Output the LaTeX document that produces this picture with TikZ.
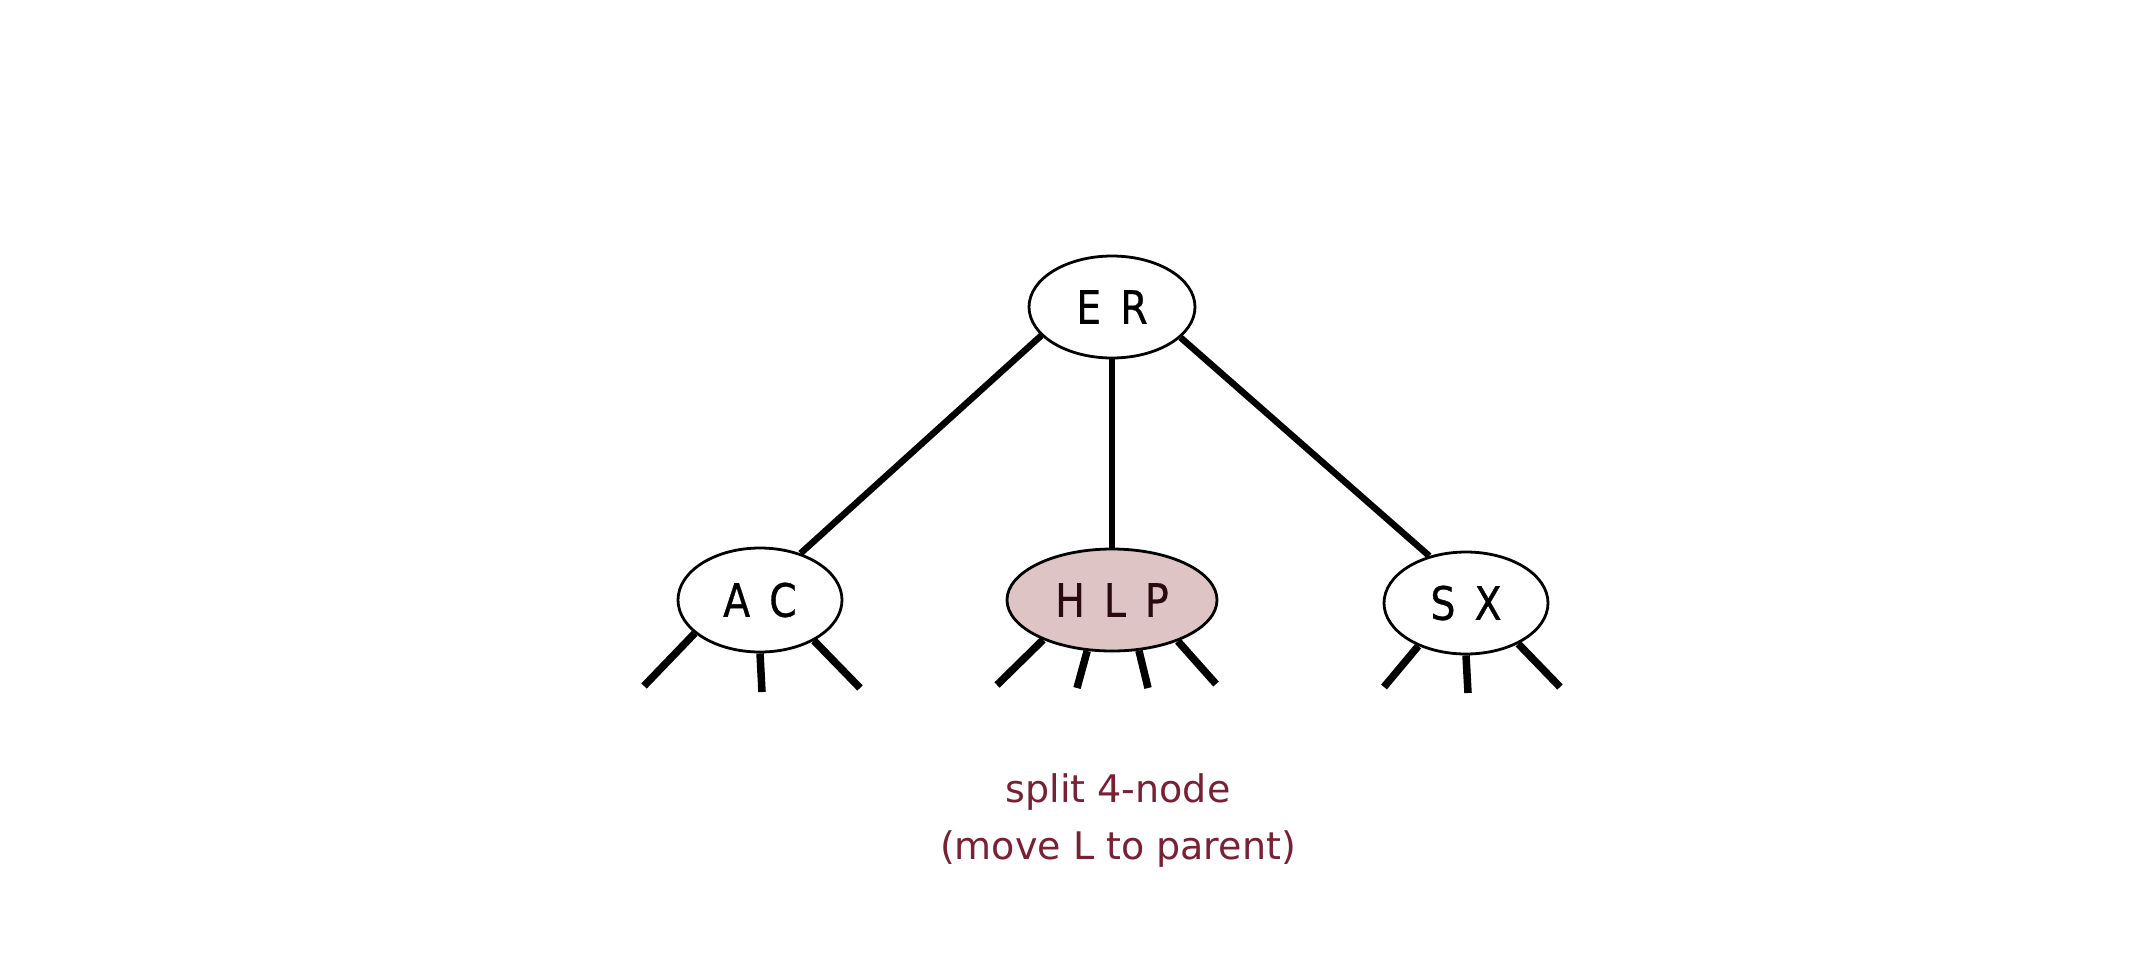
\documentclass[tikz,border=0pt]{standalone}
\usepackage{fontspec}
\setmainfont{DejaVu Sans}
\newfontfamily\nodefont[FakeStretch=0.86,FakeBold=0.6]{DejaVu Sans}
\usetikzlibrary{shapes.geometric}
\definecolor{hlpfill}{RGB}{222,196,196}
\definecolor{hlptext}{RGB}{42,10,14}
\definecolor{labelred}{RGB}{122,32,52}
\newcommand{\lgap}{\hspace{19pt}}
\tikzset{
  tnode/.style={ellipse, draw=black, line width=2.8pt, fill=white, inner sep=0pt,
    font=\nodefont\fontsize{46}{46}\selectfont},
  edge/.style={line width=6.5pt},
  leaf/.style={line width=7.5pt}
}
\begin{document}
\begin{tikzpicture}[x=1pt,y=-1pt]
\useasboundingbox (0,0) rectangle (2140,962);
\fill[white] (0,0) rectangle (2140,962);
\node[tnode, minimum width=166pt, minimum height=102pt] (er) at (1112,307) {E\lgap R};
\node[tnode, minimum width=164pt, minimum height=104pt] (ac) at (760,600) {A\lgap C};
\node[tnode, minimum width=210pt, minimum height=102pt, fill=hlpfill, text=hlptext] (hlp) at (1112,600) {H\lgap L\lgap P};
\node[tnode, minimum width=164pt, minimum height=102pt] (sx) at (1466,603) {S\lgap X};
\draw[edge] (er.202) -- (ac.49);
\draw[edge] (er) -- (hlp);
\draw[edge] (er.336) -- (sx.128);
\coordinate (ac1) at (644,686);
\coordinate (ac2) at (762,692);
\coordinate (ac3) at (860,688);
\coordinate (h1) at (997,685);
\coordinate (h2) at (1077,688);
\coordinate (h3) at (1148,688);
\coordinate (h4) at (1216,684);
\coordinate (sx1) at (1384,687);
\coordinate (sx2) at (1468,693);
\coordinate (sx3) at (1560,687);
\draw[leaf] (ac.207) -- (ac1);
\draw[leaf] (ac.270) -- (ac2);
\draw[leaf] (ac.323) -- (ac3);
\draw[leaf] (hlp.210) -- (h1);
\draw[leaf] (hlp.244) -- (h2);
\draw[leaf] (hlp.298) -- (h3);
\draw[leaf] (hlp.328) -- (h4);
\draw[leaf] (sx.222) -- (sx1);
\draw[leaf] (sx.270) -- (sx2);
\draw[leaf] (sx.322) -- (sx3);
\node[text=labelred, font=\fontsize{38}{57}\selectfont, align=center] (lbl) at (1118,820) {split 4-node\\(move L to parent)};
\end{tikzpicture}
\end{document}
